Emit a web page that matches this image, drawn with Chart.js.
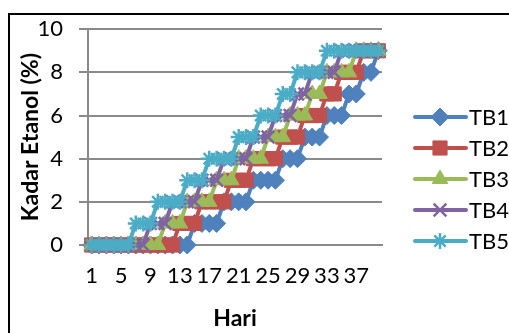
<!DOCTYPE html>
<html>
<head>
<meta charset="utf-8">
<script src="https://cdn.jsdelivr.net/npm/chart.js@4.4.1/dist/chart.umd.min.js"></script>
<style>
  html, body { margin: 0; padding: 0; background: #fff; overflow: hidden; }
  canvas { display: block; }
</style>
</head>
<body>
<canvas id="c" width="509" height="333"></canvas>
<script>
// Days of fermentation (category axis)
const days = [1, 2, 3, 4, 5, 6, 7, 8, 9, 10,
              11, 12, 13, 14, 15, 16, 17, 18, 19, 20,
              21, 22, 23, 24, 25, 26, 27, 28, 29, 30,
              31, 32, 33, 34, 35, 36, 37, 38, 39, 40];

const seriesNames = ['TB1', 'TB2', 'TB3', 'TB4', 'TB5'];

// Ethanol content (%) per day for each treatment
const tb1 = [0, 0, 0, 0, 0, 0, 0, 0, 0, 0, 0, 0, 0, 0, 1, 1, 1, 1, 2, 2,
             2, 2, 3, 3, 3, 3, 4, 4, 4, 5, 5, 5, 6, 6, 6, 7, 7, 8, 8, 9];
const tb2 = [0, 0, 0, 0, 0, 0, 0, 0, 0, 0, 0, 0, 1, 1, 1, 2, 2, 2, 2, 3,
             3, 3, 4, 4, 4, 4, 5, 5, 5, 6, 6, 6, 7, 7, 8, 8, 8, 9, 9, 9];
const tb3 = [0, 0, 0, 0, 0, 0, 0, 0, 0, 0, 1, 1, 1, 2, 2, 2, 2, 3, 3, 3,
             4, 4, 4, 4, 5, 5, 5, 6, 6, 6, 7, 7, 8, 8, 8, 8, 9, 9, 9, 9];
const tb4 = [0, 0, 0, 0, 0, 0, 0, 0, 1, 1, 1, 2, 2, 2, 2, 3, 3, 3, 4, 4,
             4, 4, 5, 5, 5, 6, 6, 6, 7, 7, 8, 8, 8, 8, 9, 9, 9, 9, 9, 9];
const tb5 = [0, 0, 0, 0, 0, 0, 1, 1, 1, 2, 2, 2, 2, 3, 3, 3, 4, 4, 4, 4,
             5, 5, 5, 6, 6, 6, 7, 7, 8, 8, 8, 8, 9, 9, 9, 9, 9, 9, 9, 9];

const yTicks = [0, 2, 4, 6, 8, 10];

const seriesValues = [tb1, tb2, tb3, tb4, tb5];
const seriesColors = ['#4F81BD', '#C0504D', '#9BBB59', '#8064A2', '#4BACC6'];
const seriesMarkers = ['rectRot', 'rect', 'triangle', 'crossRot', 'star'];
const markerRadius = [9, 10, 9, 9, 8];
const markerBorder = [1, 1, 1, 2.5, 2.5];

const GRID = '#8a8a8a';
const FONT = 'Lato, "Open Sans", sans-serif';

const datasets = seriesNames.map((name, i) => ({
  label: name,
  data: seriesValues[i],
  borderColor: seriesColors[i],
  backgroundColor: seriesColors[i],
  borderWidth: 4,
  pointStyle: seriesMarkers[i],
  pointRadius: markerRadius[i],
  pointBorderWidth: markerBorder[i],
  pointBackgroundColor: seriesColors[i],
  pointBorderColor: seriesColors[i],
  tension: 0,
  clip: false,
  order: seriesNames.length - i   // later treatments painted on top
}));

// Outer frame around the whole chart
const framePlugin = {
  id: 'frame',
  beforeDraw(chart) {
    const ctx = chart.ctx;
    ctx.save();
    ctx.fillStyle = '#fff';
    ctx.fillRect(0, 0, chart.width, chart.height);
    ctx.strokeStyle = '#000';
    ctx.lineWidth = 2;
    ctx.strokeRect(9, 14, 600, 400);
    ctx.restore();
  }
};

// Legend on the right: a line segment with the series marker, then the name
const lineLegend = {
  id: 'lineLegend',
  afterDraw(chart) {
    const ctx = chart.ctx;
    ctx.save();
    chart.data.datasets.forEach((ds, i) => {
      const y = 117 + i * 31;
      ctx.strokeStyle = ds.borderColor;
      ctx.fillStyle = ds.borderColor;
      ctx.lineWidth = 4;
      ctx.lineCap = 'round';
      ctx.beginPath();
      ctx.moveTo(415, y);
      ctx.lineTo(466, y);
      ctx.stroke();
      ctx.lineCap = 'butt';
      ctx.lineWidth = ds.pointBorderWidth;
      Chart.helpers.drawPoint(ctx, {
        pointStyle: ds.pointStyle,
        radius: ds.pointRadius,
        borderWidth: ds.pointBorderWidth,
        rotation: 0
      }, 440, y);
      ctx.fillStyle = '#000';
      ctx.font = '22px ' + FONT;
      ctx.textBaseline = 'middle';
      ctx.textAlign = 'left';
      ctx.fillText(ds.label, 469, y + 1);
    });
    ctx.restore();
  }
};

new Chart(document.getElementById('c'), {
  type: 'line',
  data: { labels: days, datasets },
  plugins: [framePlugin, lineLegend],
  options: {
    responsive: false,
    animation: false,
    devicePixelRatio: 1,
    layout: { padding: { left: 0, right: 127, top: 28, bottom: 0 } },
    plugins: {
      legend: { display: false },
      tooltip: { enabled: false }
    },
    scales: {
      x: {
        type: 'category',
        offset: true,
        grid: { display: false, drawTicks: false },
        border: { display: true, color: GRID, width: 2 },
        ticks: {
          autoSkip: false,
          maxRotation: 0,
          minRotation: 0,
          padding: 18,
          color: '#000',
          font: { family: FONT, size: 22 },
          callback: (v, idx) => (idx % 4 === 0 ? String(days[idx]) : '')
        },
        title: {
          display: true,
          text: 'Hari',
          color: '#000',
          font: { family: FONT, size: 23, weight: 'bold' },
          padding: { top: 0, bottom: 1 }
        },
        afterFit(scale) { scale.height = 88; }
      },
      y: {
        min: 0,
        max: 10,
        afterBuildTicks(scale) { scale.ticks = yTicks.map(v => ({ value: v })); },
        grid: { color: GRID, lineWidth: 2, tickLength: 9, drawTicks: true },
        border: { display: true, color: GRID, width: 2 },
        ticks: {
          padding: 16,
          color: '#000',
          font: { family: FONT, size: 22 }
        },
        title: {
          display: true,
          text: 'Kadar Etanol (%)',
          color: '#000',
          font: { family: FONT, size: 23, weight: 'bold' },
          padding: { top: 17, bottom: 0 }
        },
        afterFit(scale) { scale.width = 88; }
      }
    }
  }
});
</script>
</body>
</html>
